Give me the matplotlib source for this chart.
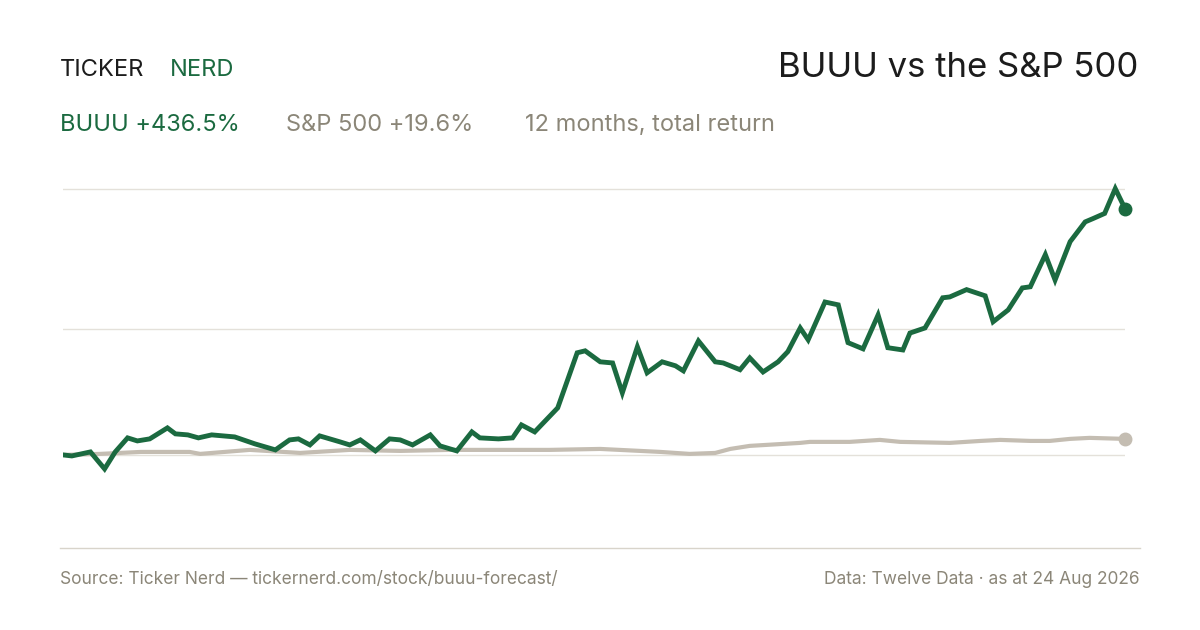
import matplotlib
matplotlib.use("Agg")
import matplotlib.pyplot as plt
from matplotlib.lines import Line2D

# months since start, total return in %
buuu_month = [0, 0.10, 0.31, 0.47, 0.59, 0.73, 0.84, 0.98, 1.18, 1.27, 1.41, 1.53, 1.68, 1.94,
              2.17, 2.40, 2.56, 2.66, 2.79, 2.90, 3.13, 3.24, 3.36, 3.53, 3.69, 3.81, 3.95, 4.15,
              4.26, 4.45, 4.62, 4.71, 4.92, 5.08, 5.18, 5.33, 5.59, 5.81, 5.90, 6.07, 6.21, 6.32,
              6.49, 6.60, 6.77, 6.92, 7.01, 7.18, 7.37, 7.46, 7.65, 7.76, 7.91, 8.08, 8.19, 8.33,
              8.42, 8.61, 8.76, 8.87, 9.04, 9.21, 9.32, 9.49, 9.57, 9.74, 9.94, 10.02, 10.21, 10.42,
              10.51, 10.68, 10.84, 10.93, 11.10, 11.21, 11.38, 11.55, 11.64, 11.77, 11.89, 12.0]
buuu_ret = [0, -1.8, 5.3, -24.8, 5.3, 30.2, 24.8, 28.4, 47.9, 37.3, 35.5, 30.2, 35.5, 31.9,
            19.5, 8.9, 26.6, 28.4, 17.7, 33.7, 23.1, 17.7, 26.6, 7.1, 28.4, 26.6, 17.7, 35.5,
            16.0, 7.1, 40.8, 30.2, 28.4, 30.2, 53.2, 40.8, 83.4, 181, 184.5, 165, 163, 110,
            191.6, 145.5, 165, 158, 149, 202, 165, 163, 151, 172, 147, 165, 183, 225,
            204, 271, 266, 199, 188, 248, 190, 186, 216, 225, 278.5, 280, 293, 282,
            236, 257, 296, 298, 355, 310, 378, 413, 419, 428, 472, 436.5]

spx_month = [0, 0.42, 0.88, 1.43, 1.55, 2.11, 2.68, 3.24, 3.81, 4.37, 4.94, 5.50, 6.07, 6.52, 6.75,
             7.08, 7.37, 7.54, 7.76, 8.33, 8.44, 8.89, 9.23, 9.46, 10.02, 10.37, 10.59, 10.93,
             11.15, 11.38, 11.60, 12.0]
spx_ret = [0, 1.8, 5.3, 5.3, 1.8, 8.9, 3.5, 8.9, 7.1, 8.9, 8.9, 8.9, 10.6, 7.1, 5.3,
           1.8, 3.5, 10.6, 16.0, 21.3, 23.1, 23.1, 26.6, 23.1, 21.3, 24.8, 26.6, 24.8,
           24.8, 28.4, 30.2, 28.4]

grid_vals = [0, 224, 472]

GREEN = "#1b6a40"
GREY = "#8b8678"
SPX = "#c4bdb2"
DARK = "#1c1c1c"

plt.rcParams['font.family'] = ['Inter', 'DejaVu Sans']

fig = plt.figure(figsize=(12, 6.3), dpi=100)
ax = fig.add_axes([63 / 1200, 1 - 548 / 630, 1062 / 1200, 378 / 630])
ax.set_xlim(0, 12)
ax.set_ylim(-165, 505)
for g in grid_vals:
    ax.axhline(g, color="#e4e1da", lw=1, zorder=0)
ax.plot(spx_month, spx_ret, color=SPX, lw=3, solid_capstyle="round")
ax.plot(buuu_month, buuu_ret, color=GREEN, lw=3.5, solid_joinstyle="miter")
ax.plot(spx_month[-1], spx_ret[-1], "o", color=SPX, ms=9, clip_on=False)
ax.plot(buuu_month[-1], buuu_ret[-1], "o", color=GREEN, ms=9, clip_on=False)
ax.axis("off")

fig.add_artist(Line2D([60 / 1200, 1140 / 1200], [1 - 548 / 630] * 2, color="#d8d4cb", lw=1))

fig.text(60 / 1200, 1 - 70 / 630, "TICKER", color=DARK, fontsize=17, va="center")
fig.text(170 / 1200, 1 - 70 / 630, "NERD", color=GREEN, fontsize=17, va="center")
fig.text(1138 / 1200, 1 - 68 / 630, "BUUU vs the S&P 500", color=DARK, fontsize=25,
         ha="right", va="center")
fig.text(60 / 1200, 1 - 125 / 630, "BUUU +436.5%", color=GREEN, fontsize=17, va="center")
fig.text(286 / 1200, 1 - 125 / 630, "S&P 500 +19.6%", color=GREY, fontsize=17, va="center")
fig.text(525 / 1200, 1 - 125 / 630, "12 months, total return", color=GREY, fontsize=17, va="center")
fig.text(60 / 1200, 1 - 580 / 630, "Source: Ticker Nerd \u2014 tickernerd.com/stock/buuu-forecast/",
         color=GREY, fontsize=12.5, va="center")
fig.text(1140 / 1200, 1 - 580 / 630, "Data: Twelve Data \u00b7 as at 24 Aug 2026",
         color=GREY, fontsize=12.5, va="center", ha="right")

fig.savefig("out.png", dpi=100, facecolor="white")
